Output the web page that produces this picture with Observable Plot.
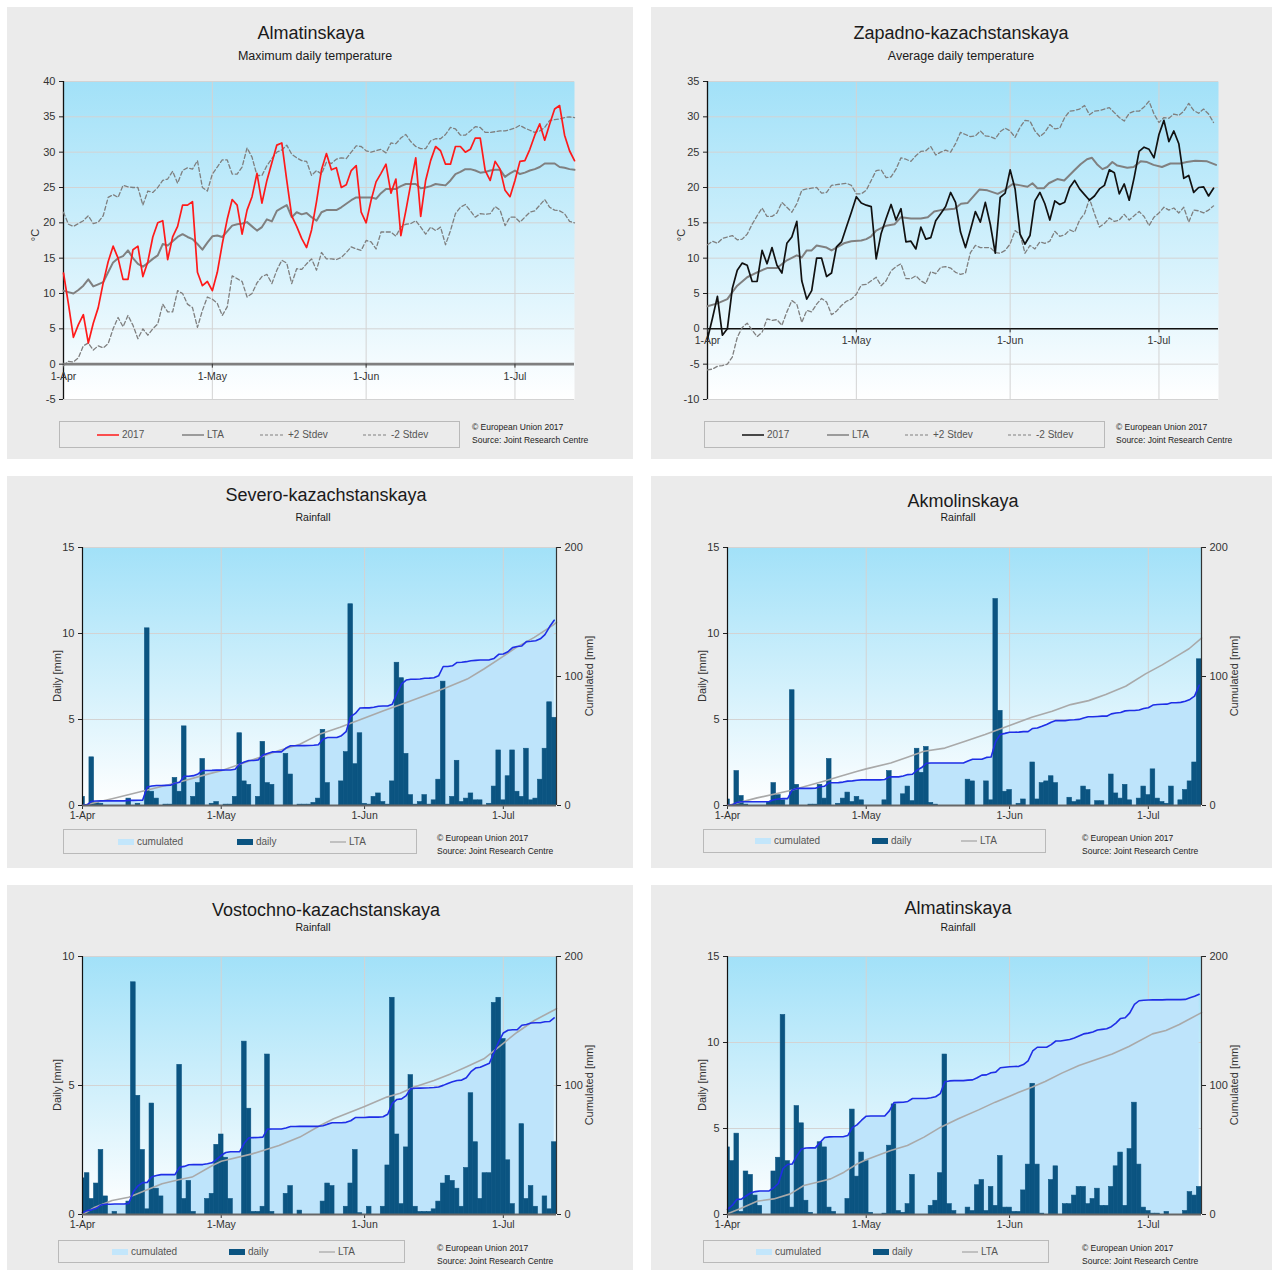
<!DOCTYPE html>
<html><head><meta charset="utf-8">
<script src="https://cdn.jsdelivr.net/npm/d3@7"></script>
<script src="https://cdn.jsdelivr.net/npm/@observablehq/plot@0.6"></script>
<style>
body{margin:0;background:#fff;font-family:"Liberation Sans",Arial,sans-serif;}
#root{position:relative;width:1278px;height:1272px;overflow:hidden;}
</style></head><body><div id="root"></div>
<script>
// ---------------- DATA ----------------
const monthTickDays = [0, 30, 61, 91];
const monthTickLabels = ["1-Apr", "1-May", "1-Jun", "1-Jul"];

// Almatinskaya – maximum daily temperature (°C), one value per day from 1-Apr
const almatyTmax2017 = [12.9,8.5,3.8,5.6,7.0,3.0,5.8,8.0,11.5,14.5,16.7,15.0,12.0,12.0,16.2,16.7,12.4,14.5,18.0,20.0,20.3,14.8,18.0,19.5,22.5,22.5,23.0,13.0,11.1,11.7,10.4,13.0,17.0,20.5,23.3,22.5,18.4,21.8,23.7,27.0,22.8,26.0,28.5,31.0,31.3,26.0,21.0,19.5,17.8,16.5,19.0,23.0,27.5,29.8,27.5,27.8,25.0,25.4,27.4,28.1,21.5,20.0,23.2,25.8,27.0,28.3,24.2,26.2,18.2,21.7,25.5,29.2,20.9,26.0,28.8,30.8,30.2,28.3,28.3,30.8,30.8,30.0,30.4,32.0,32.0,27.4,26.0,28.7,27.6,24.6,23.7,26.0,28.7,28.8,30.4,32.4,34.0,31.7,34.0,36.1,36.6,32.4,30.2,28.8];
const almatyTmaxLTA = [10.4,10.2,10.0,10.5,11.1,12.0,11.0,11.3,11.6,13.0,14.4,15.0,15.3,16.1,15.0,14.2,13.8,14.3,14.9,15.4,17.0,16.8,17.4,18.0,18.4,18.0,17.7,17.0,16.2,17.2,18.1,18.2,18.0,18.8,19.6,19.8,19.9,20.1,19.5,18.9,19.4,20.5,20.2,21.7,22.1,22.5,20.8,21.5,21.2,21.4,20.8,20.3,21.5,21.8,21.8,21.8,22.2,22.7,23.2,23.6,23.6,23.6,23.6,23.4,24.2,24.8,24.8,24.8,25.2,25.5,25.5,25.5,24.9,25.0,25.2,25.5,25.4,25.3,26.0,26.9,27.2,27.6,27.6,27.4,27.1,27.2,27.4,27.5,27.5,26.5,27.0,27.4,26.9,27.1,27.4,27.6,27.9,28.4,28.4,28.4,27.9,27.8,27.6,27.5];
const almatyTmaxPlus2 = [21.5,19.8,19.5,19.9,20.3,21.0,19.9,20.1,21.0,23.6,24.0,23.6,25.3,25.1,25.0,25.0,22.5,24.5,24.3,25.0,26.0,26.2,27.3,25.6,27.4,27.8,27.6,28.8,25.0,24.5,26.9,27.9,28.9,28.9,26.9,26.9,27.9,30.6,29.3,26.7,26.7,28.1,29.1,30.0,30.3,31.0,29.7,29.2,28.8,28.7,26.7,27.4,26.9,28.6,28.4,29.0,29.2,29.1,30.0,30.9,30.8,30.2,30.0,30.2,30.4,29.9,31.3,31.2,32.0,32.5,31.5,30.8,30.5,30.5,31.6,31.9,31.9,32.5,33.5,33.3,32.4,32.4,33.0,33.6,33.5,32.8,32.8,32.9,33.0,33.0,33.2,33.4,33.8,33.4,33.1,32.8,33.0,33.5,34.5,34.6,34.7,34.9,35.0,34.9];
const almatyTmaxMinus2 = [-0.2,0.4,0.3,0.9,2.6,3.0,2.0,2.6,2.3,2.9,5.0,6.6,5.3,6.9,5.5,3.6,5.0,4.1,5.0,5.7,8.5,7.4,7.4,10.4,10.0,8.5,8.0,5.2,7.6,9.5,9.2,8.6,6.9,8.1,12.5,12.1,11.7,9.5,10.0,11.5,12.4,12.7,11.4,13.3,14.7,14.3,11.4,13.5,13.4,14.2,14.9,13.3,15.8,14.9,14.9,14.8,15.1,15.8,16.6,16.3,16.1,17.5,17.3,16.3,18.7,18.7,18.7,18.1,19.4,19.8,19.9,20.3,19.4,18.4,19.4,18.9,19.4,16.9,18.9,21.3,22.2,22.6,21.7,20.8,21.3,21.2,21.3,22.3,21.8,19.6,20.8,20.8,20.1,20.8,21.5,21.7,22.5,23.3,22.2,21.8,21.7,21.3,20.2,20.0];

// Zapadno-kazachstanskaya – average daily temperature (°C)
const zapadTavg2017 = [-1.4,1.5,4.6,-0.9,0,5.7,8.3,9.3,9.0,6.7,6.7,11.1,9.2,11.5,9.0,7.9,12.1,13.0,15.2,6.8,4.2,5.4,10.0,10.0,7.4,7.9,11.6,12.3,14.4,16.5,18.7,17.8,17.5,17.3,9.9,13.5,15.6,17.6,15.4,17.0,12.3,12.4,11.3,14.4,12.7,12.9,15.3,16.3,17.3,19.3,17.9,13.7,11.5,14.0,16.6,15.1,17.9,14.8,10.7,18.6,19.2,22.5,19.8,13.4,12.0,13.2,18.1,19.3,17.7,15.4,18.1,17.6,17.9,20.0,21.0,19.8,19.0,18.2,18.8,19.8,20.3,22.5,22.1,19.1,20.5,18.2,21.4,25.1,25.7,25.4,24.2,27.5,29.5,26.5,28.0,26.2,21.3,21.7,19.3,20.0,20.1,18.8,19.9];
const zapadTavgLTA = [[0,3.2],[2,3.6],[4,4.2],[5,5.2],[6,6.1],[8,7.3],[10,8.0],[12,8.6],[14,8.6],[16,9.7],[18,10.4],[19,10.1],[20,11.1],[21,11.1],[22,11.8],[24,11.5],[25,11.1],[26,11.5],[27.5,12.1],[29,12.4],[31,12.5],[32,12.7],[33,13.1],[34,13.9],[36,14.6],[37.7,14.8],[39,15.8],[41,15.6],[43,15.6],[44.4,15.8],[45.7,16.6],[47,16.8],[49.8,17.0],[51.1,17.7],[52.4,17.8],[54.8,19.7],[56.4,19.6],[58.5,19.1],[59.8,19.6],[61.5,20.5],[63.1,20.3],[64.5,20.1],[65.5,20.6],[66.5,19.9],[67.8,19.9],[68.8,20.6],[70.5,21.2],[71.9,21.0],[73.9,22.4],[75.2,23.3],[76.5,24.0],[77.5,24.2],[78.5,23.3],[79.6,22.6],[80.6,22.9],[81.6,23.6],[82.6,23.1],[84.6,22.8],[85.9,22.9],[87.3,23.7],[88.6,23.6],[89.9,23.2],[91.6,22.9],[93.3,23.4],[95.3,23.4],[96.6,23.6],[98.3,23.8],[100.7,23.7],[102.5,23.2]];
const zapadTavgPlus2 = [11.9,12.4,12.1,12.8,13.0,13.2,12.6,12.7,13.4,14.8,16.0,17.1,15.9,15.9,16.4,17.9,17.2,16.5,17.7,19.6,19.8,19.9,20.0,19.2,19.3,20.3,20.4,20.5,20.6,20.3,19.1,19.1,19.6,21.0,22.4,22.5,21.4,21.5,22.6,24.2,24.0,23.7,24.5,25.1,25.2,25.8,24.6,25.0,25.3,25.0,26.2,27.8,27.5,27.2,27.3,28.0,27.3,27.2,26.9,27.9,28.4,28.0,27.1,28.5,29.5,29.4,28.0,27.2,27.8,28.9,28.3,28.4,29.9,30.8,30.9,31.1,31.6,30.3,30.8,30.9,31.1,31.3,30.6,29.9,29.4,30.5,30.8,30.8,31.4,32.2,30.4,29.2,29.9,29.8,30.4,30.2,30.8,31.9,30.9,30.5,31.1,30.4,29.2];
const zapadTavgMinus2 = [-5.8,-5.7,-5.3,-5.2,-5.0,-4.0,-1.2,0.2,0.8,-0.2,-1.1,-0.5,1.4,1.2,1.3,0.5,2.4,4.0,3.5,0.9,2.6,2.4,3.5,4.3,3.8,2.0,2.5,3.3,3.9,4.2,4.9,6.2,6.3,6.8,7.3,6.1,6.8,8.2,8.8,9.2,7.1,7.1,7.5,6.8,6.4,8.1,7.8,8.7,8.8,8.6,8.0,7.7,7.9,10.8,11.8,11.5,11.5,11.5,10.8,10.7,11.1,12.0,13.9,13.4,10.7,11.8,11.3,12.3,12.1,12.4,13.8,13.1,13.3,14.0,13.7,15.4,16.3,18.4,16.3,14.4,14.9,15.7,15.2,15.4,16.2,15.4,16.0,16.6,15.9,14.6,15.8,16.4,17.2,16.8,17.1,16.4,17.2,15.1,16.8,16.7,16.4,16.8,17.4];

// Rainfall: [day since 1-Apr, daily mm]; LTA cumulated: [day, mm]
const severoRain = [[0,0.5],[2,2.8],[3,0.15],[4,0.1],[10,0.4],[12,0.1],[14,10.3],[15,0.8],[16,0.4],[18,0.05],[19,0.05],[20,1.6],[21,0.8],[22,4.6],[24,0.5],[25,1.3],[26,2.7],[28,0.1],[29,0.2],[31,0.05],[32,0.05],[33,0.5],[34,4.2],[35,1.4],[36,1.2],[38,0.5],[39,3.7],[40,1.3],[41,1.2],[44,3.0],[45,1.8],[47,0.05],[48,0.05],[49,0.05],[50,0.15],[51,0.4],[52,4.4],[53,1.3],[56,1.4],[57,3.1],[58,11.7],[59,2.4],[60,4.2],[61,0.1],[62,0.05],[63,0.5],[64,0.7],[65,0.2],[66,0.05],[67,1.4],[68,8.3],[69,7.4],[70,3.0],[71,0.6],[72,0.05],[73,0.2],[74,0.6],[75,0.05],[76,0.3],[77,1.5],[78,7.2],[79,0.05],[80,0.5],[81,2.6],[82,0.2],[83,0.4],[84,0.7],[85,0.3],[86,0.3],[88,0.1],[89,1.1],[90,3.2],[91,0.3],[92,1.7],[93,3.2],[94,0.8],[95,0.5],[96,3.3],[97,0.3],[98,0.4],[99,1.5],[100,3.3],[101,6.0],[102,5.1]];
const severoLTA = [[0,0],[6.4,5.2],[13.6,11.6],[20.8,18],[27.3,24.5],[30,27],[35.3,33.5],[42.5,42.6],[47,47.5],[51.4,55.5],[55.7,60.6],[61,67.9],[65.1,73.5],[70.2,80],[76,87.7],[78.9,91.6],[83.2,98],[86.8,105.8],[90.4,114.3],[94,123],[97.7,130.3],[101.6,139.4],[102.5,142]];

const akmolRain = [[0,0.35],[2,2.0],[3,0.55],[4,0.05],[9,0.2],[10,1.3],[11,0.6],[12,0.3],[14,6.7],[15,1.2],[18,0.05],[19,0.05],[20,1.2],[21,0.4],[22,2.7],[24,0.1],[25,0.4],[26,0.75],[27,0.2],[28,0.5],[29,0.3],[34,0.3],[35,2.0],[38,0.65],[39,1.1],[40,0.25],[41,3.3],[42,1.9],[43,3.4],[44,0.15],[45,0.05],[52,1.5],[53,1.4],[56,1.4],[57,0.3],[58,12.0],[59,5.5],[60,0.8],[61,0.9],[63,0.1],[64,0.35],[66,2.5],[67,0.35],[68,1.3],[69,1.4],[70,1.7],[71,1.3],[74,0.45],[75,0.2],[76,0.3],[77,1.1],[78,0.9],[80,0.25],[81,0.25],[83,1.8],[84,0.7],[85,0.4],[86,1.2],[87,0.3],[89,0.4],[90,1.1],[91,0.6],[92,2.1],[93,0.4],[94,0.2],[95,0.1],[96,1.1],[98,0.3],[99,0.9],[100,1.4],[101,2.5],[102,8.5]];
const akmolLTA = [[0,0],[6.4,5.9],[13.6,11.6],[20.8,18.8],[24.4,22.7],[28.1,26.6],[30,28.4],[35.3,33],[38.9,37.4],[42.5,42],[47,44.5],[51.4,49.8],[55.7,55],[61,62],[65.8,68.4],[70.2,73],[74.2,78.2],[78.1,81.3],[81.8,86],[86.1,92.4],[90.4,102],[94,109],[97.7,117],[99.8,121.5],[102.5,129.8]];

const vostokRain = [[0,1.4],[1,1.6],[2,0.6],[3,1.2],[4,2.5],[5,0.7],[7,0.1],[10,0.5],[11,9.0],[12,4.6],[13,2.5],[14,0.2],[15,4.3],[16,1.0],[17,0.7],[21,5.8],[22,0.6],[23,1.3],[24,0.1],[27,0.6],[28,0.8],[29,2.7],[30,3.1],[31,2.2],[32,0.6],[35,6.7],[36,4.1],[37,0.1],[38,0.1],[39,0.3],[40,6.2],[41,0.1],[44,0.8],[45,1.1],[47,0.15],[52,0.5],[53,1.2],[54,1.1],[57,0.3],[58,1.2],[59,2.5],[60,0.05],[62,0.3],[65,0.3],[66,1.9],[67,8.4],[68,3.1],[69,0.4],[70,2.6],[71,5.4],[72,0.3],[73,0.1],[74,0.1],[75,0.1],[76,0.2],[77,0.5],[78,1.2],[79,1.5],[80,1.3],[81,1.0],[82,0.3],[83,1.8],[84,4.7],[85,2.8],[86,0.6],[87,1.6],[88,1.6],[89,8.2],[90,8.4],[91,6.8],[92,2.1],[93,0.4],[95,3.5],[96,0.6],[97,1.1],[98,0.3],[100,0.7],[101,0.2],[102,2.8]];
const vostokLTA = [[0,0],[2.7,5.7],[6.4,10.9],[10,13.4],[13.6,18.6],[17.2,23.8],[20.8,26.9],[23.7,29],[28.1,38],[30,41.3],[36.7,47],[42.5,53.5],[47,60],[51.4,69],[54.3,74.2],[61,83.7],[65.8,91],[68.7,94],[71.6,98.7],[76,103.9],[79.6,109],[83.2,114.7],[86.8,120.7],[90.4,131],[94,141.3],[97.7,150.4],[102.5,159.5]];

const almatyRain = [[0,3.9],[1,3.1],[2,4.7],[3,0.15],[4,2.5],[5,2.3],[6,1.1],[7,0.5],[10,2.5],[11,3.3],[12,11.6],[13,3.1],[14,0.4],[15,6.3],[16,5.3],[17,0.8],[18,0.1],[20,4.2],[21,3.9],[22,0.4],[23,0.15],[26,0.9],[27,6.1],[28,2.2],[29,3.6],[30,3.1],[31,0.1],[34,0.05],[35,4.0],[36,6.4],[37,0.2],[38,0.1],[39,0.6],[40,2.3],[44,0.5],[45,0.8],[46,2.4],[47,9.3],[48,0.6],[49,0.2],[52,0.4],[53,0.2],[54,1.7],[55,2.0],[56,0.2],[57,1.6],[58,0.5],[59,3.4],[60,0.4],[61,0.4],[62,0.15],[63,0.15],[64,1.4],[65,2.9],[66,7.6],[67,2.9],[68,0.05],[70,2.0],[71,2.8],[73,0.6],[74,0.6],[75,1.1],[76,1.6],[77,1.6],[78,0.6],[79,0.9],[80,1.5],[81,0.5],[82,0.5],[83,1.6],[84,2.8],[85,3.6],[86,0.5],[87,3.8],[88,6.5],[89,2.9],[90,0.4],[91,0.2],[92,0.05],[93,0.05],[95,0.15],[99,0.2],[100,1.3],[101,1.1],[102,1.6]];
const almatyRainLTA = [[0,0.5],[2.7,4.4],[6.4,10.3],[10,12.1],[13.6,16],[16.5,22.5],[19.4,25],[22.3,27.6],[25.2,32.8],[28.1,39.3],[30,42.4],[35.3,49.6],[38.9,53.5],[42.5,60],[46.1,67.7],[49.9,74.2],[54.3,81.1],[57.9,87.1],[61,91.7],[63,94.8],[65.8,98.7],[68.7,103.1],[72.3,109.6],[76,115.5],[79.6,119.9],[83.2,124.5],[86.8,130.2],[91.9,140],[94.8,142.6],[97.7,147.3],[102.5,156.5]];

// ---------------- RENDERING ----------------
const FONT = '"Liberation Sans", Arial, sans-serif';
const NS = "http://www.w3.org/2000/svg";
const root = document.getElementById("root");
const GRID = "#d3d3d3";
const BAR = "#0b5481";

function el(tag, style, text, parent = root) {
  const e = document.createElement(tag);
  Object.assign(e.style, style);
  if (text != null) e.textContent = text;
  parent.appendChild(e);
  return e;
}
function px(v) { return v + "px"; }

function panelBox(x, y, w, h) {
  el("div", {position: "absolute", left: px(x), top: px(y), width: px(w), height: px(h), background: "#ebebeb"});
}
function centeredText(text, cx, cy, size, color = "#1a1a1a") {
  const lh = Math.round(size * 1.25);
  el("div", {position: "absolute", left: px(cx - 300), width: "600px", top: px(cy - lh / 2), lineHeight: px(lh),
    textAlign: "center", fontSize: px(size), color, whiteSpace: "nowrap"}, text);
}
function rotatedText(text, cx, cy, size) {
  el("div", {position: "absolute", left: px(cx), top: px(cy), transform: "translate(-50%,-50%) rotate(-90deg)",
    fontSize: px(size), color: "#333", whiteSpace: "nowrap", lineHeight: px(size + 2)}, text);
}
function copyright(x, y) {
  const d = el("div", {position: "absolute", left: px(x), top: px(y), fontSize: "8.5px", lineHeight: "12.5px", color: "#222", whiteSpace: "nowrap"});
  el("div", {}, "\u00A9 European Union 2017", d);
  el("div", {}, "Source: Joint Research Centre", d);
}
function legend(box, items) {
  const [x, y, w, h] = box;
  const b = el("div", {position: "absolute", left: px(x), top: px(y), width: px(w), height: px(h),
    border: "1px solid #b9b9b9", boxSizing: "border-box"});
  const cy = (h - 2) / 2;
  for (const it of items) {
    const s = document.createElementNS(NS, "svg");
    s.setAttribute("width", it.sw); s.setAttribute("height", 10);
    Object.assign(s.style, {position: "absolute", left: px(it.off), top: px(cy - 5)});
    if (it.kind === "rect") {
      const r = document.createElementNS(NS, "rect");
      r.setAttribute("x", 0); r.setAttribute("y", 2); r.setAttribute("width", it.sw); r.setAttribute("height", 6);
      r.setAttribute("fill", it.color); s.appendChild(r);
    } else {
      const l = document.createElementNS(NS, "line");
      l.setAttribute("x1", 0); l.setAttribute("x2", it.sw); l.setAttribute("y1", 5); l.setAttribute("y2", 5);
      l.setAttribute("stroke", it.color); l.setAttribute("stroke-width", it.width || 1.5);
      if (it.dash) l.setAttribute("stroke-dasharray", it.dash);
      s.appendChild(l);
    }
    b.appendChild(s);
    el("div", {position: "absolute", left: px(it.off + it.sw + 3), top: px(cy - 7), lineHeight: "14px",
      fontSize: "10px", color: "#555", whiteSpace: "nowrap"}, it.label, b);
  }
}
function addGradient(svg, id) {
  const defs = document.createElementNS(NS, "defs");
  defs.innerHTML = `<linearGradient id="${id}" x1="0" y1="0" x2="0" y2="1">
    <stop offset="0" stop-color="#a2e1f8"/><stop offset="0.55" stop-color="#d4f1fc"/><stop offset="1" stop-color="#ffffff"/></linearGradient>`;
  svg.insertBefore(defs, svg.firstChild);
}
function place(svg, x, y) {
  Object.assign(svg.style, {position: "absolute", left: px(x), top: px(y)});
  root.appendChild(svg);
}

function tempPanel(c) {
  const gid = "grad-" + c.id;
  const h = c.h;
  const plotH = h - c.mt - c.mb;
  const tickLen = 4 * (c.yDomain[1] - c.yDomain[0]) / plotH;
  const idx = (d, i) => i;
  const svg = Plot.plot({
    width: c.w, height: h, marginLeft: c.ml, marginRight: c.mr, marginTop: c.mt, marginBottom: c.mb,
    style: {background: "transparent", fontFamily: FONT, fontSize: "11px", color: "#333", overflow: "visible"},
    x: {domain: [0, 103], axis: null},
    y: {domain: c.yDomain, axis: null},
    marks: [
      Plot.frame({fill: `url(#${gid})`, stroke: "none"}),
      Plot.gridY({ticks: c.yTicks, stroke: GRID, strokeOpacity: 1}),
      Plot.gridX({ticks: monthTickDays.slice(1), stroke: GRID, strokeOpacity: 1}),
      Plot.axisY({ticks: c.yTicks, tickSize: 4, tickPadding: 4, fontSize: 11, tickFormat: d => String(d), label: null, stroke: "#222"}),
      Plot.ruleX([0], {stroke: "#111", strokeWidth: 1.3}),
      Plot.ruleY([0], {stroke: c.zeroColor, strokeWidth: c.zeroWidth}),
      Plot.ruleX(monthTickDays, {y1: 0, y2: -tickLen, stroke: "#333"}),
      Plot.text(monthTickDays, {x: d => d, y: 0, dy: 12, text: (d, i) => monthTickLabels[i], fontSize: 10.5, fill: "#333"}),
      Plot.line(c.plus2, {x: idx, y: d => d, stroke: "#7f7f7f", strokeWidth: 1.3, strokeDasharray: "4,2.5"}),
      Plot.line(c.minus2, {x: idx, y: d => d, stroke: "#7f7f7f", strokeWidth: 1.3, strokeDasharray: "4,2.5"}),
      Plot.line(c.lta, c.ltaPairs ? {x: d => d[0], y: d => d[1], stroke: "#808080", strokeWidth: 2}
                                 : {x: idx, y: d => d, stroke: "#808080", strokeWidth: 2}),
      Plot.line(c.obs, {x: idx, y: d => d, stroke: c.color, strokeWidth: 1.7})
    ]
  });
  addGradient(svg, gid);
  place(svg, c.x, c.y);
}

function rainPanel(c) {
  const gid = "grad-" + c.id;
  const k = c.yMax / 200;
  const dense = new Array(103).fill(0);
  for (const [d, v] of c.rain) dense[d] = v;
  const cum = d3.cumsum(dense);
  const cumData = Array.from(cum, (v, i) => ({d: i, c: v * k}));
  const svg = Plot.plot({
    width: c.w, height: c.h, marginLeft: c.ml, marginRight: c.mr, marginTop: c.mt, marginBottom: c.mb,
    style: {background: "transparent", fontFamily: FONT, fontSize: "11px", color: "#333", overflow: "visible"},
    x: {domain: [0, 102.5], axis: null},
    y: {domain: [0, c.yMax], axis: null},
    marks: [
      Plot.frame({fill: `url(#${gid})`, stroke: "none"}),
      Plot.gridY({ticks: c.yTicks.slice(1), stroke: GRID, strokeOpacity: 1}),
      Plot.gridX({ticks: monthTickDays.slice(1), stroke: GRID, strokeOpacity: 1}),
      Plot.areaY(cumData, {x: "d", y1: 0, y2: "c", fill: "#bee4fb"}),
      Plot.rect(c.rain, {x1: d => d[0] - 0.5, x2: d => d[0] + 0.5, y1: 0, y2: d => d[1],
        fill: BAR, stroke: BAR, strokeWidth: 0.6, inset: 0, clip: true}),
      Plot.line(c.lta, {x: d => d[0], y: d => d[1] * k, stroke: "#a9a9a9", strokeWidth: 1.6}),
      Plot.line(cumData, {x: "d", y: "c", stroke: "#1f2ee6", strokeWidth: 1.6}),
      Plot.axisY({ticks: c.yTicks, anchor: "left", tickSize: 4, tickPadding: 4, fontSize: 11, tickFormat: d => String(d), label: null, stroke: "#222"}),
      Plot.axisY({ticks: [0, c.yMax / 2, c.yMax], anchor: "right", tickSize: 4, tickPadding: 4, fontSize: 11,
        tickFormat: d => String(Math.round(d / k)), label: null, stroke: "#222"}),
      Plot.axisX({ticks: monthTickDays, anchor: "bottom", tickSize: 4, tickPadding: 2, fontSize: 10.5,
        tickFormat: d => monthTickLabels[monthTickDays.indexOf(d)], label: null, stroke: "#333"}),
      Plot.ruleX([0], {stroke: "#111", strokeWidth: 1.2}),
      Plot.ruleX([102.5], {stroke: "#333", strokeWidth: 1.2}),
      Plot.ruleY([0], {stroke: "#666", strokeWidth: 1.8})
    ]
  });
  addGradient(svg, gid);
  place(svg, c.x, c.y);
}

// ----- Panel backgrounds
panelBox(7, 7, 626, 452);
panelBox(651, 7, 621, 452);
panelBox(7, 476, 626, 392);
panelBox(651, 476, 621, 392);
panelBox(7, 885, 626, 385);
panelBox(651, 885, 621, 385);

// ----- Temperature panels
tempPanel({id: "tl", x: 7, y: 7, w: 626, h: 452, ml: 56, mr: 59, mt: 74, mb: 60,
  yDomain: [-5, 40], yTicks: d3.range(-5, 41, 5), zeroColor: "#7f7f7f", zeroWidth: 2.6,
  obs: almatyTmax2017, lta: almatyTmaxLTA, plus2: almatyTmaxPlus2, minus2: almatyTmaxMinus2, color: "#ff1a1a"});
tempPanel({id: "tr", x: 651, y: 7, w: 621, h: 452, ml: 56, mr: 54, mt: 74, mb: 60,
  yDomain: [-10, 35], yTicks: d3.range(-10, 36, 5), zeroColor: "#111", zeroWidth: 1.5,
  obs: zapadTavg2017, lta: zapadTavgLTA, ltaPairs: true, plus2: zapadTavgPlus2, minus2: zapadTavgMinus2, color: "#111"});

centeredText("Almatinskaya", 311, 33, 18);
centeredText("Maximum daily temperature", 315, 56, 12.5);
centeredText("Zapadno-kazachstanskaya", 961, 33, 18);
centeredText("Average daily temperature", 961, 56, 12.5);
rotatedText("\u00B0C", 35, 235, 11);
rotatedText("\u00B0C", 681, 235, 11);

const tempLegendItems = color => [
  {off: 37, sw: 22, kind: "line", color, width: 1.5, label: "2017"},
  {off: 122, sw: 22, kind: "line", color: "#808080", width: 1.5, label: "LTA"},
  {off: 200, sw: 25, kind: "line", color: "#808080", width: 1.2, dash: "3,2", label: "+2 Stdev"},
  {off: 303, sw: 25, kind: "line", color: "#808080", width: 1.2, dash: "3,2", label: "-2 Stdev"}
];
legend([59, 421, 401, 27], tempLegendItems("#ff1a1a"));
legend([704, 421, 401, 27], tempLegendItems("#111"));
copyright(472, 421);
copyright(1116, 421);

// ----- Rainfall panels
rainPanel({id: "ml", x: 7, y: 476, w: 626, h: 392, ml: 75, mr: 77, mt: 71, mb: 63,
  yMax: 15, yTicks: [0, 5, 10, 15], rain: severoRain, lta: severoLTA});
rainPanel({id: "mr", x: 651, y: 476, w: 621, h: 392, ml: 76, mr: 71, mt: 71, mb: 63,
  yMax: 15, yTicks: [0, 5, 10, 15], rain: akmolRain, lta: akmolLTA});
rainPanel({id: "bl", x: 7, y: 885, w: 626, h: 385, ml: 75, mr: 77, mt: 71, mb: 56,
  yMax: 10, yTicks: [0, 5, 10], rain: vostokRain, lta: vostokLTA});
rainPanel({id: "br", x: 651, y: 885, w: 621, h: 385, ml: 76, mr: 71, mt: 71, mb: 56,
  yMax: 15, yTicks: [0, 5, 10, 15], rain: almatyRain, lta: almatyRainLTA});

centeredText("Severo-kazachstanskaya", 326, 495, 18);
centeredText("Rainfall", 313, 517, 10.5);
centeredText("Akmolinskaya", 963, 501, 18);
centeredText("Rainfall", 958, 517, 10.5);
centeredText("Vostochno-kazachstanskaya", 326, 910, 18);
centeredText("Rainfall", 313, 927, 10.5);
centeredText("Almatinskaya", 958, 908, 18);
centeredText("Rainfall", 958, 927, 10.5);

rotatedText("Daily [mm]", 57, 676, 11);
rotatedText("Cumulated [mm]", 589, 676, 11);
rotatedText("Daily [mm]", 702, 676, 11);
rotatedText("Cumulated [mm]", 1234, 676, 11);
rotatedText("Daily [mm]", 57, 1085, 11);
rotatedText("Cumulated [mm]", 589, 1085, 11);
rotatedText("Daily [mm]", 702, 1085, 11);
rotatedText("Cumulated [mm]", 1234, 1085, 11);

const rainLegendItems = offs => [
  {off: offs[0], sw: 16, kind: "rect", color: "#c3e6fb", label: "cumulated"},
  {off: offs[1], sw: 16, kind: "rect", color: BAR, label: "daily"},
  {off: offs[2], sw: 16, kind: "line", color: "#a9a9a9", width: 1.3, label: "LTA"}
];
legend([63, 829, 354, 25], rainLegendItems([54, 173, 266]));
legend([703, 829, 343, 24], rainLegendItems([51, 168, 257]));
legend([58, 1240, 347, 23], rainLegendItems([53, 170, 260]));
legend([703, 1240, 346, 23], rainLegendItems([52, 169, 258]));
copyright(437, 832);
copyright(1082, 832);
copyright(437, 1242);
copyright(1082, 1242);
</script></body></html>
